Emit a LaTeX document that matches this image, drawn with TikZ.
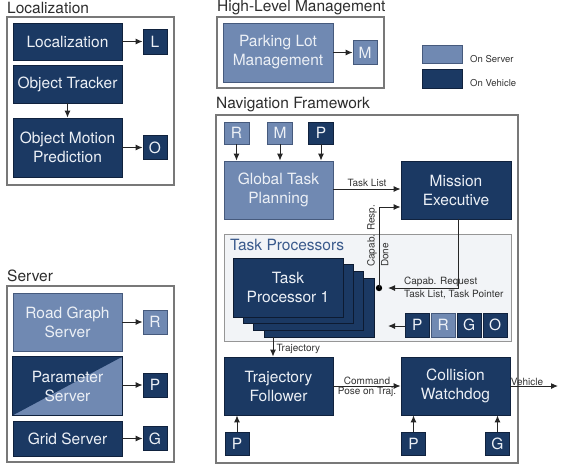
\documentclass[tikz,border=0pt]{standalone}
\usepackage{fontspec}
\setmainfont{TeX Gyre Heros}
\usetikzlibrary{arrows.meta}
\definecolor{dkfill}{RGB}{27,57,99}
\definecolor{dkline}{RGB}{16,34,62}
\definecolor{ltfill}{RGB}{112,137,178}
\definecolor{ltline}{RGB}{70,90,125}
\definecolor{boxtext}{RGB}{236,240,246}
\definecolor{grpline}{RGB}{120,120,120}
\definecolor{titletext}{RGB}{45,45,45}
\definecolor{tpfill}{RGB}{242,244,247}
\definecolor{tpline}{RGB}{150,150,150}
\definecolor{tptitle}{RGB}{58,90,140}
\tikzset{
  base/.style={inner sep=0pt, align=center, text=boxtext, font=\fontsize{15.5}{19}\selectfont},
  dk/.style={base, fill=dkfill, draw=dkline, line width=0.8pt},
  lt/.style={base, fill=ltfill, draw=ltline, line width=0.8pt},
  grp/.style={draw=grpline, line width=1.2pt, fill=white},
  gtitle/.style={anchor=west, inner sep=0pt, text=titletext, font=\fontsize{15.5}{18}\selectfont},
  arr/.style={draw=black!85, line width=1pt, -{Latex[length=7pt,width=6pt]}},
  small/.style={inner sep=0pt, font=\fontsize{10}{11.5}\selectfont, text=black!80},
}
\begin{document}
\begin{tikzpicture}[x=1pt,y=-1pt]
\useasboundingbox (0,0) rectangle (565,467);

% ---------------- Localization ----------------
\node[gtitle] (tloc) at (7,8) {Localization};
\draw[grp] (7,17) rectangle (174,185);
\node[dk, minimum width=109pt, minimum height=37pt] (loc) at (67.5,41.5) {Localization};
\node[dk, minimum width=24pt, minimum height=25pt] (L) at (155,41.5) {L};
\node[dk, minimum width=109pt, minimum height=38pt] (ot) at (67.5,84) {Object Tracker};
\node[dk, minimum width=109pt, minimum height=59pt] (omp) at (67.5,147.5) {Object Motion\\Prediction};
\node[dk, minimum width=24pt, minimum height=24pt] (O) at (155,147.5) {O};
\draw[arr] (loc) -- (L);
\draw[arr] (ot) -- (omp);
\draw[arr] (omp) -- (O);

% ---------------- Server ----------------
\node[gtitle] (tsrv) at (7,276) {Server};
\draw[grp] (7,286) rectangle (174,462);
\node[lt, minimum width=109pt, minimum height=58pt] (rgs) at (67.5,322) {Road Graph\\Server};
\node[lt, minimum width=24pt, minimum height=24pt] (R) at (155,322) {R};
\node[lt, minimum width=109pt, minimum height=58pt] (ps) at (67.5,386) {};
\fill[dkfill] (ps.north west) -- (ps.north east) -- (ps.south west) -- cycle;
\draw[dkline, line width=0.8pt] (ps.north west) rectangle (ps.south east);
\node[base] (pslabel) at (ps.center) {Parameter\\Server};
\node[dk, minimum width=24pt, minimum height=24pt] (P) at (155,385) {P};
\node[dk, minimum width=109pt, minimum height=35pt] (gs) at (67.5,438.5) {Grid Server};
\node[dk, minimum width=24pt, minimum height=24pt] (G) at (155,438.5) {G};
\draw[arr] (rgs) -- (R);
\draw[arr] (ps.east |- P) -- (P);
\draw[arr] (gs) -- (G);

% ---------------- High-Level Management ----------------
\node[gtitle] (thlm) at (217,8) {High-Level Management};
\draw[grp] (217,17) rectangle (384,88);
\node[lt, minimum width=110pt, minimum height=59pt] (plm) at (278,52.5) {Parking Lot\\Management};
\node[lt, minimum width=24pt, minimum height=24pt] (M) at (365,52.5) {M};
\draw[arr] (plm) -- (M);

% ---------------- Legend ----------------
\node[lt, minimum width=40pt, minimum height=18pt] (legs) at (442,54) {};
\node[dk, minimum width=40pt, minimum height=19pt] (legv) at (442,78.5) {};
\node[small, anchor=west, font=\fontsize{9.5}{11}\selectfont] (legst) at (470,59) {On Server};
\node[small, anchor=west, font=\fontsize{9.5}{11}\selectfont] (legvt) at (470,83) {On Vehicle};

% ---------------- Navigation Framework ----------------
\node[gtitle] (tnav) at (216,105) {Navigation Framework};
\draw[grp] (216,115) rectangle (518,463);
\node[lt, minimum width=25pt, minimum height=22pt] (R1) at (236.5,133) {R};
\node[lt, minimum width=25pt, minimum height=22pt] (M1) at (280,133) {M};
\node[dk, minimum width=25pt, minimum height=22pt] (P1) at (321,133) {P};
\node[lt, minimum width=109pt, minimum height=58pt] (gtp) at (278.5,190) {Global Task\\Planning};
\node[dk, minimum width=110pt, minimum height=58pt] (me) at (456,190) {Mission\\Executive};
\draw[arr] (R1) -- (R1 |- gtp.north);
\draw[arr] (M1) -- (M1 |- gtp.north);
\draw[arr] (P1) -- (P1 |- gtp.north);
\draw[arr] (gtp.east |- 0,189) -- node[small, above=1.5pt] {Task List} (me.west |- 0,189);

% Task processors panel
\draw[fill=tpfill, draw=tpline, line width=1pt] (224,234) rectangle (511,341);
\node[inner sep=0pt, anchor=west, text=tptitle, font=\fontsize{15.5}{18}\selectfont] (tptitle) at (230,245) {Task Processors};
\node[dk, minimum width=110pt, minimum height=59pt, draw=dkline!80!black] (tp4) at (319,307.5) {};
\node[dk, minimum width=110pt, minimum height=59pt, draw=dkline!80!black] (tp3) at (308.7,300.8) {};
\node[dk, minimum width=110pt, minimum height=59pt, draw=dkline!80!black] (tp2) at (298.4,294.1) {};
\node[dk, minimum width=110pt, minimum height=59pt, draw=dkline!80!black] (tp1) at (288,287.5) {Task\\Processor 1};

% PRGO strip
\node[dk, minimum width=24.5pt, minimum height=24pt] (sP) at (417.25,325) {P};
\node[lt, minimum width=24.5pt, minimum height=24pt] (sR) at (443.25,325) {R};
\node[dk, minimum width=24.5pt, minimum height=24pt] (sG) at (469.25,325) {G};
\node[dk, minimum width=24.5pt, minimum height=24pt] (sO) at (495.25,325) {O};
\coordinate (stin) at (388,326);
\draw[arr] (sP.west |- stin) -- (stin);

% Capab. Resp. / Done line
\coordinate (dot) at (379,288);
\fill[black] (dot) circle (3.2pt);
\draw[arr] (dot) -- (379,207) -- (me.west |- 0,207);
\node[small, rotate=90, anchor=south west] (crl) at (377,267) {Capab. Resp.};
\node[small, rotate=90, anchor=north west] (dnl) at (381,267) {Done};

% Mission Executive -> task processors
\coordinate (reqin) at (388,288);
\draw[arr] (458,219) -- (458,288) -- (reqin);
\node[small, anchor=south west] (capreq) at (404,287) {Capab. Request};
\node[small, anchor=north west] (tlist) at (404,290) {Task List, Task Pointer};

% Trajectory follower and collision watchdog
\node[dk, minimum width=109pt, minimum height=58pt] (tf) at (278.5,386) {Trajectory\\Follower};
\node[dk, minimum width=109pt, minimum height=58pt] (cw) at (455.5,386) {Collision\\Watchdog};
\coordinate (trajtop) at (273,337);
\draw[arr] (trajtop) -- node[small, right=3pt, pos=0.6] {Trajectory} (trajtop |- tf.north);
\draw[arr] (tf) -- node[small, above=0.5pt] {Command} node[small, below=0.5pt] {Pose on Traj.} (cw);
\coordinate (veh) at (558,386);
\draw[arr] (cw) -- node[small, above=0pt, pos=0.35] {Vehicle} (veh);

\node[dk, minimum width=24pt, minimum height=23pt] (P2) at (237,443.5) {P};
\node[dk, minimum width=24pt, minimum height=23pt] (P3) at (413.5,443.5) {P};
\node[dk, minimum width=24pt, minimum height=23pt] (G2) at (497.5,443.5) {G};
\draw[arr] (P2) -- (P2 |- tf.south);
\draw[arr] (P3) -- (P3 |- cw.south);
\draw[arr] (G2) -- (G2 |- cw.south);
\end{tikzpicture}
\end{document}
